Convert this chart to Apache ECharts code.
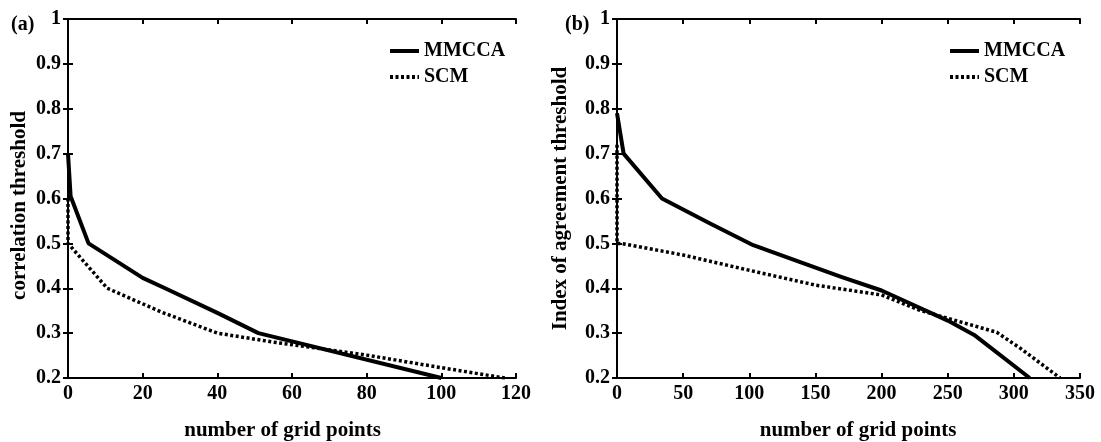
<!DOCTYPE html>
<html>
<head>
<meta charset="utf-8">
<style>
  html, body { margin: 0; padding: 0; background: #fff; }
  #chart { width: 1101px; height: 442px; }
</style>
<script src="https://cdn.jsdelivr.net/npm/echarts@6/dist/echarts.min.js"></script>
</head>
<body>
<div id="chart"></div>
<script>
// panel (a): correlation threshold
var aMmccaX = [0, 0.7, 5.5, 20, 26, 40, 51, 100];
var aMmccaY = [0.70, 0.605, 0.5, 0.423, 0.4, 0.345, 0.3, 0.2];
var aScmX = [0, 0, 10.5, 25, 40, 55, 80, 100, 117];
var aScmY = [0.6, 0.5, 0.4, 0.347, 0.3, 0.28, 0.251, 0.223, 0.2];

// panel (b): index of agreement threshold
var bMmccaX = [0, 5, 34, 70, 103, 138, 170, 200, 250, 270, 312];
var bMmccaY = [0.79, 0.7, 0.6, 0.545, 0.496, 0.459, 0.425, 0.395, 0.328, 0.296, 0.2];
var bScmX = [0, 0, 3, 50, 100, 150, 200, 228, 250, 287, 305, 335];
var bScmY = [0.72, 0.5, 0.5, 0.474, 0.44, 0.407, 0.385, 0.352, 0.333, 0.302, 0.266, 0.2];

var seriesNames = ['MMCCA', 'SCM'];
var panelLabels = ['(a)', '(b)'];
var yNames = ['correlation threshold', 'Index of agreement threshold'];
var xName = 'number of grid points';

function pairs(xs, ys) {
  return xs.map(function(x, i) { return [x, ys[i]]; });
}

var font = '"Liberation Serif", "Times New Roman", serif';
var txt = { fontFamily: font, fontWeight: 'bold', color: '#000' };
var axisLine = { show: true, lineStyle: { color: '#000', width: 2 } };
var axisTick = { show: true, inside: true, length: 5, lineStyle: { color: '#000', width: 2 } };

function yFmt(v) {
  return Math.abs(v - 1) < 1e-9 ? '1' : v.toFixed(1);
}

function xAxes(gridIndex, max, interval, namePad) {
  return [
    {
      type: 'value', gridIndex: gridIndex, min: 0, max: max, interval: interval,
      name: xName, nameLocation: 'middle', nameGap: 42,
      nameTextStyle: Object.assign({ fontSize: 21, padding: namePad }, txt),
      axisLine: axisLine, axisTick: axisTick, splitLine: { show: false },
      axisLabel: Object.assign({ fontSize: 20, margin: 6 }, txt)
    },
    {
      type: 'value', gridIndex: gridIndex, position: 'top', min: 0, max: max, interval: interval,
      axisLine: axisLine, axisTick: axisTick, splitLine: { show: false },
      axisLabel: { show: false }
    }
  ];
}

function yAxes(gridIndex, name, gap, namePad) {
  return [
    {
      type: 'value', gridIndex: gridIndex, min: 0.2, max: 1, interval: 0.1,
      name: name, nameLocation: 'middle', nameGap: gap,
      nameTextStyle: Object.assign({ fontSize: 21, padding: namePad }, txt),
      axisLine: axisLine, axisTick: axisTick, splitLine: { show: false },
      axisLabel: Object.assign({ fontSize: 20, margin: 7, formatter: yFmt }, txt)
    },
    {
      type: 'value', gridIndex: gridIndex, position: 'right', min: 0.2, max: 1, interval: 0.1,
      axisLine: axisLine, axisTick: axisTick, splitLine: { show: false },
      axisLabel: { show: false }
    }
  ];
}

function lineSeries(name, xIdx, yIdx, data, dotted) {
  return {
    name: name, type: 'line', xAxisIndex: xIdx, yAxisIndex: yIdx,
    data: data, symbol: 'none', showSymbol: false, silent: true,
    lineStyle: dotted
      ? { color: '#000', width: 3.5, type: [3, 2.5], cap: 'butt' }
      : { color: '#000', width: 4, join: 'round' },
    itemStyle: { color: '#000' }
  };
}

function legend(left) {
  return {
    data: seriesNames, orient: 'vertical', left: left, top: 36,
    itemWidth: 29, itemHeight: 14, itemGap: 6, selectedMode: false,
    itemStyle: { opacity: 0 },
    lineStyle: { width: 4 },
    textStyle: Object.assign({ fontSize: 20, lineHeight: 18 }, txt)
  };
}

var chart = echarts.init(document.getElementById('chart'), null, { renderer: 'canvas' });

chart.setOption({
  animation: false,
  backgroundColor: '#fff',
  title: [
    { text: panelLabels[0], left: 6, top: 10, textStyle: Object.assign({ fontSize: 20 }, txt) },
    { text: panelLabels[1], left: 560, top: 10, textStyle: Object.assign({ fontSize: 20 }, txt) }
  ],
  legend: [legend(383), legend(943)],
  grid: [
    { left: 68, top: 19, width: 448, height: 359, outerBoundsMode: 'none', containLabel: false },
    { left: 617, top: 19, width: 463, height: 359, outerBoundsMode: 'none', containLabel: false }
  ],
  xAxis: xAxes(0, 120, 20, [0, 19, 0, 0]).concat(xAxes(1, 350, 50, [0, 0, 0, 19])),
  yAxis: yAxes(0, yNames[0], 38, [0, 14, 0, 0]).concat(yAxes(1, yNames[1], 46, 0)),
  series: [
    lineSeries(seriesNames[0], 0, 0, pairs(aMmccaX, aMmccaY), false),
    lineSeries(seriesNames[1], 0, 0, pairs(aScmX, aScmY), true),
    lineSeries(seriesNames[0], 2, 2, pairs(bMmccaX, bMmccaY), false),
    lineSeries(seriesNames[1], 2, 2, pairs(bScmX, bScmY), true)
  ]
});
</script>
</body>
</html>
